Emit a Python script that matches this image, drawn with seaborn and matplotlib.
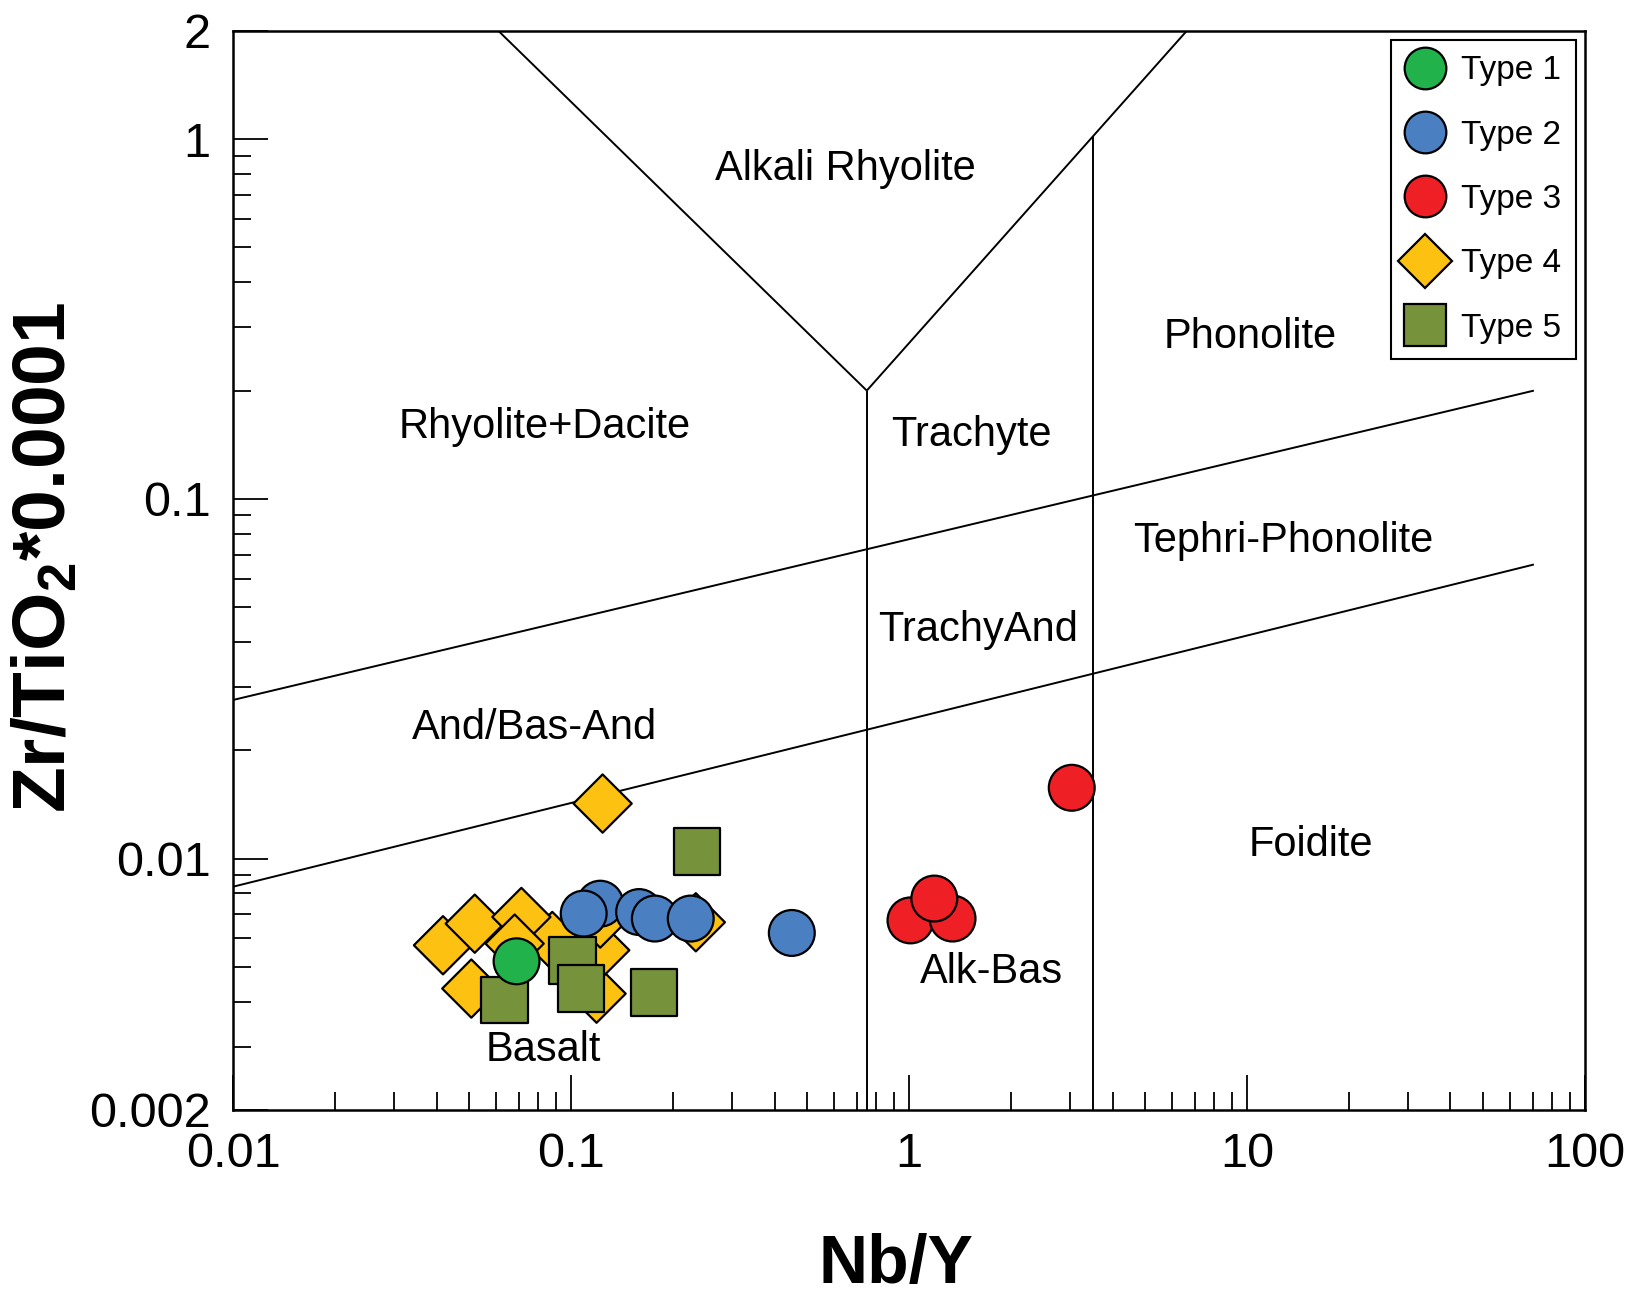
import matplotlib
matplotlib.use("Agg")
import matplotlib.pyplot as plt
from matplotlib.lines import Line2D
from matplotlib.ticker import LogLocator, NullFormatter, FixedLocator, FixedFormatter
import numpy as np
import pandas as pd
import seaborn as sns

# ---- sample data (Nb/Y vs Zr/TiO2*0.0001) ----
type1_nb_y = [0.069]
type1_zr_ti = [0.00518]

type2_nb_y = [0.122, 0.109, 0.159, 0.177, 0.226, 0.450]
type2_zr_ti = [0.00749, 0.00703, 0.00710, 0.00681, 0.00681, 0.00621]

type3_nb_y = [1.01, 1.345, 1.188, 3.03]
type3_zr_ti = [0.00673, 0.00681, 0.00774, 0.01573]

type4_nb_y = [0.124, 0.0418, 0.0519, 0.088, 0.0713, 0.0681, 0.0507,
              0.119, 0.122, 0.122, 0.234]
type4_zr_ti = [0.01422, 0.00574, 0.00659, 0.0059, 0.00688, 0.00580, 0.00435,
               0.00421, 0.00556, 0.00681, 0.00665]

type5_nb_y = [0.236, 0.101, 0.107, 0.176, 0.0636]
type5_zr_ti = [0.01048, 0.00521, 0.00436, 0.00425, 0.00404]

type_names = ["Type 1", "Type 2", "Type 3", "Type 4", "Type 5"]
type_colors = ["#21b24b", "#4a7fc1", "#ee1f25", "#fcc111", "#76933c"]
type_markers = ["o", "o", "o", "D", "s"]
type_sizes = [1090, 1090, 1090, 880, 1130]

# ---- field boundaries (Winchester & Floyd, modified by Pearce 1996) ----
bound_left_diag_x = [0.061, 0.75]
bound_left_diag_y = [2.0, 0.2]
bound_right_diag_x = [0.75, 6.63]
bound_right_diag_y = [0.2, 2.0]
bound_v1_x = [0.75, 0.75]
bound_v1_y = [0.002, 0.2]
bound_v2_x = [3.5, 3.5]
bound_v2_y = [0.002, 1.02]
bound_upper_x = [0.01, 70.6]
bound_upper_y = [0.0276, 0.2]
bound_lower_x = [0.01, 70.6]
bound_lower_y = [0.00835, 0.0657]

field_names = ["Alkali Rhyolite", "Rhyolite+Dacite", "Trachyte", "Phonolite",
               "Tephri-Phonolite", "TrachyAnd", "And/Bas-And", "Foidite",
               "Alk-Bas", "Basalt"]
field_x = [0.649, 0.0838, 1.53, 10.2, 12.8, 1.6, 0.078, 15.4, 1.75, 0.0826]
field_y = [0.824, 0.158, 0.151, 0.281, 0.0766, 0.0431, 0.023, 0.0109, 0.00483, 0.00293]

x_tick_vals = [0.01, 0.1, 1, 10, 100]
x_tick_labels = ["0.01", "0.1", "1", "10", "100"]
y_tick_vals = [0.002, 0.01, 0.1, 1, 2]
y_tick_labels = ["0.002", "0.01", "0.1", "1", "2"]

# ---- assemble long table; diamonds first, then squares, then circles ----
series = {
    "Type 4": (type4_nb_y, type4_zr_ti),
    "Type 5": (type5_nb_y, type5_zr_ti),
    "Type 1": (type1_nb_y, type1_zr_ti),
    "Type 2": (type2_nb_y, type2_zr_ti),
    "Type 3": (type3_nb_y, type3_zr_ti),
}
rows = []
for name, (xs, ys) in series.items():
    for xv, yv in zip(xs, ys):
        rows.append({"Nb/Y": xv, "Zr/Ti": yv, "type": name})
df = pd.DataFrame(rows)

sns.set_style("white")
plt.rcParams["font.family"] = ["Liberation Sans", "DejaVu Sans"]
plt.rcParams["text.color"] = "black"
plt.rcParams["axes.labelcolor"] = "black"
plt.rcParams["xtick.color"] = "black"
plt.rcParams["ytick.color"] = "black"
plt.rcParams["mathtext.fontset"] = "custom"
plt.rcParams["mathtext.rm"] = "Liberation Sans:bold"
plt.rcParams["mathtext.bf"] = "Liberation Sans:bold"
plt.rcParams["mathtext.it"] = "Liberation Sans:bold"
plt.rcParams["mathtext.default"] = "rm"

fig = plt.figure(figsize=(16.32, 13.0), dpi=100)
ax = fig.add_axes([0.1428, 0.1462, 0.9712 - 0.1428, 0.9762 - 0.1462])

ax.set_xscale("log")
ax.set_yscale("log")
ax.set_xlim(0.01, 100)
ax.set_ylim(0.002, 2)

line_kw = dict(color="black", lw=1.4, zorder=2, solid_capstyle="butt")
for bx, by in [(bound_left_diag_x, bound_left_diag_y),
               (bound_right_diag_x, bound_right_diag_y),
               (bound_v1_x, bound_v1_y), (bound_v2_x, bound_v2_y),
               (bound_upper_x, bound_upper_y), (bound_lower_x, bound_lower_y)]:
    ax.plot(bx, by, **line_kw)

palette = dict(zip(type_names, type_colors))
markers = dict(zip(type_names, type_markers))
sizes = dict(zip(type_names, type_sizes))
sns.scatterplot(data=df, x="Nb/Y", y="Zr/Ti", hue="type", style="type",
                size="type", palette=palette, markers=markers, sizes=sizes,
                hue_order=type_names, style_order=type_names, size_order=type_names,
                edgecolor="black", linewidth=1.6, alpha=1, legend=False,
                ax=ax, zorder=3)

for name, fx, fy in zip(field_names, field_x, field_y):
    ax.text(fx, fy, name, fontsize=30, ha="center", va="center",
            color="black", zorder=4)

# ---- axes styling ----
for sp in ax.spines.values():
    sp.set_linewidth(1.8)
    sp.set_color("black")

ax.xaxis.set_major_locator(FixedLocator(x_tick_vals))
ax.xaxis.set_major_formatter(FixedFormatter(x_tick_labels))
ax.xaxis.set_minor_locator(LogLocator(base=10, subs=np.arange(2, 10)))
ax.xaxis.set_minor_formatter(NullFormatter())
ax.yaxis.set_major_locator(FixedLocator(y_tick_vals))
ax.yaxis.set_major_formatter(FixedFormatter(y_tick_labels))
ax.yaxis.set_minor_locator(LogLocator(base=10, subs=np.arange(2, 10)))
ax.yaxis.set_minor_formatter(NullFormatter())

ax.tick_params(which="both", direction="in", top=False, right=False,
               left=True, bottom=True, color="black", labelcolor="black")
ax.tick_params(which="major", length=25, width=1.3, labelsize=35, pad=16)
ax.tick_params(which="minor", length=13, width=1.3)

ax.set_xlabel("Nb/Y", fontsize=49, fontweight="bold", color="black")
ax.set_ylabel("Zr/TiO$_2$*0.0001", fontsize=54, fontweight="bold", color="black")
ax.xaxis.set_label_coords(0.49, -0.1437)
ax.xaxis.label.set_va("center")
ax.yaxis.set_label_coords(-0.139, 0.5125)
ax.yaxis.label.set_va("center")

handles = []
legend_ms = [30, 30, 30, 27.3, 30]
for name, col, mk, ms in zip(type_names, type_colors, type_markers, legend_ms):
    handles.append(Line2D([], [], linestyle="", marker=mk, markersize=ms,
                          markerfacecolor=col, markeredgecolor="black",
                          markeredgewidth=1.6))
leg = ax.legend(handles, type_names, loc="upper right", fontsize=24,
                frameon=True, fancybox=False, framealpha=1, edgecolor="black",
                labelspacing=1.0, borderpad=0.45, handlelength=1.15,
                handletextpad=0.5, borderaxespad=0.28)
leg.get_frame().set_linewidth(1.5)
leg.set_zorder(5)
for t in leg.get_texts():
    t.set_color("black")

fig.savefig("out.png", dpi=100)
